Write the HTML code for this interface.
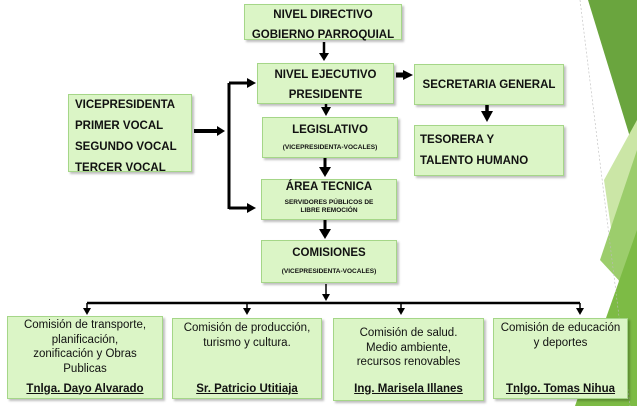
<!DOCTYPE html>
<html><head><meta charset="utf-8"><style>
body{margin:0;width:637px;height:406px;position:relative;overflow:hidden;background:#fff;font-family:"Liberation Sans",sans-serif}
.b{position:absolute;background:#dbf5c6;border:1.5px solid #a5d688;box-sizing:border-box;box-shadow:2px 2px 2px rgba(0,0,0,.25);text-align:center;color:#111}
.t{font-weight:bold;font-size:11.5px}
.s{font-weight:bold;font-size:6.5px}
.c{font-size:11.5px;line-height:14.5px}
.u{font-weight:bold;text-decoration:underline;font-size:11.5px;position:absolute;left:0;right:0;bottom:2px}
svg{position:absolute;left:0;top:0}
</style></head><body>
<svg width="637" height="406">
<polygon points="588,0 637,0 637,160" fill="#6aa53e"/>
<polygon points="637,120 604,180 637,406" fill="#cbe6a6"/>
<polygon points="637,150 600,260 637,300" fill="#9ccd6c"/>
<polygon points="637,230 575,406 637,406" fill="#7dbb45"/>
<line x1="580" y1="0" x2="630" y2="406" stroke="#bbb" stroke-width="0.6" stroke-dasharray="2,2"/>
<g fill="#000" stroke="#000">
<line x1="324" y1="42" x2="324" y2="54" stroke-width="2.5"/><polygon points="319,53 329,53 324,61" stroke="none"/>
<line x1="396" y1="75" x2="404" y2="75" stroke-width="5"/><polygon points="403,70 403,80 413,75" stroke="none"/>
<line x1="487" y1="104" x2="487" y2="112" stroke-width="3.5"/><polygon points="481,111 493,111 487,122" stroke="none"/>
<line x1="326" y1="104" x2="326" y2="108" stroke-width="2.5"/><polygon points="321,107 331,107 326,116" stroke="none"/>
<line x1="325" y1="158" x2="325" y2="168" stroke-width="3"/><polygon points="319,167 331,167 325,177" stroke="none"/>
<line x1="325" y1="220" x2="325" y2="230" stroke-width="3"/><polygon points="319,229 331,229 325,239" stroke="none"/>
<line x1="194" y1="131" x2="218" y2="131" stroke-width="4"/><polygon points="217,126 217,136 225,131" stroke="none"/>
<line x1="229" y1="83" x2="229" y2="209" stroke-width="3"/>
<line x1="229" y1="83" x2="248" y2="83" stroke-width="3"/><polygon points="247,78 247,88 256,83" stroke="none"/>
<line x1="229" y1="208" x2="248" y2="208" stroke-width="3"/><polygon points="247,203 247,213 256,208" stroke="none"/>
<line x1="326" y1="284" x2="326" y2="296" stroke-width="1.5"/><polygon points="322,294 330,294 326,301" stroke="none"/>
<line x1="87" y1="303" x2="580" y2="303" stroke-width="2.5"/>
<line x1="87" y1="303" x2="87" y2="309" stroke-width="1.5"/><polygon points="83,308 91,308 87,315" stroke="none"/>
<line x1="247" y1="303" x2="247" y2="309" stroke-width="1.5"/><polygon points="243,308 251,308 247,315" stroke="none"/>
<line x1="401" y1="303" x2="401" y2="309" stroke-width="1.5"/><polygon points="397,308 405,308 401,315" stroke="none"/>
<line x1="580" y1="303" x2="580" y2="309" stroke-width="1.5"/><polygon points="576,308 584,308 580,315" stroke="none"/>
</g>
</svg>
<div class="b t" style="left:244px;top:4px;width:158px;height:36px;line-height:20px;padding-top:0">NIVEL DIRECTIVO<br>GOBIERNO PARROQUIAL</div>
<div class="b t" style="left:257px;top:63px;width:137px;height:41px;line-height:20px;padding-top:1px">NIVEL EJECUTIVO<br>PRESIDENTE</div>
<div class="b t" style="left:414px;top:64px;width:150px;height:41px;line-height:40px">SECRETARIA GENERAL</div>
<div class="b t" style="left:68px;top:94px;width:124px;height:78px;line-height:21px;text-align:left;padding:0 0 0 6px">VICEPRESIDENTA<br>PRIMER VOCAL<br>SEGUNDO VOCAL<br>TERCER VOCAL</div>
<div class="b" style="left:262px;top:117px;width:136px;height:41px"><div class="t" style="margin-top:6px">LEGISLATIVO</div><div class="s" style="margin-top:8px">(VICEPRESIDENTA-VOCALES)</div></div>
<div class="b t" style="left:414px;top:125px;width:150px;height:51px;line-height:21px;text-align:left;padding:4px 0 0 5px">TESORERA Y<br>TALENTO HUMANO</div>
<div class="b" style="left:261px;top:179px;width:136px;height:41px"><div class="t" style="margin-top:1px">ÁREA TECNICA</div><div class="s" style="margin-top:6px;line-height:8px">SERVIDORES PÚBLICOS DE<br>LIBRE REMOCIÓN</div></div>
<div class="b" style="left:261px;top:240px;width:136px;height:43px"><div class="t" style="margin-top:6px">COMISIONES</div><div class="s" style="margin-top:9px">(VICEPRESIDENTA-VOCALES)</div></div>
<div class="b c" style="left:7px;top:316px;width:156px;height:83px;padding-top:1px">Comisión de transporte,<br>planificación,<br>zonificación y Obras<br>Publicas<div class="u">Tnlga. Dayo Alvarado</div></div>
<div class="b c" style="left:172px;top:318px;width:150px;height:81px;padding-top:2px">Comisión de producción,<br>turismo y cultura.<div class="u">Sr. Patricio Utitiaja</div></div>
<div class="b c" style="left:333px;top:318px;width:151px;height:83px;padding-top:7px">Comisión de salud.<br>Medio ambiente,<br>recursos renovables<div class="u" style="bottom:4px">Ing. Marisela Illanes</div></div>
<div class="b c" style="left:493px;top:318px;width:135px;height:81px;padding-top:2px">Comisión de educación<br>y deportes<div class="u">Tnlgo. Tomas Nihua</div></div>
</body></html>
